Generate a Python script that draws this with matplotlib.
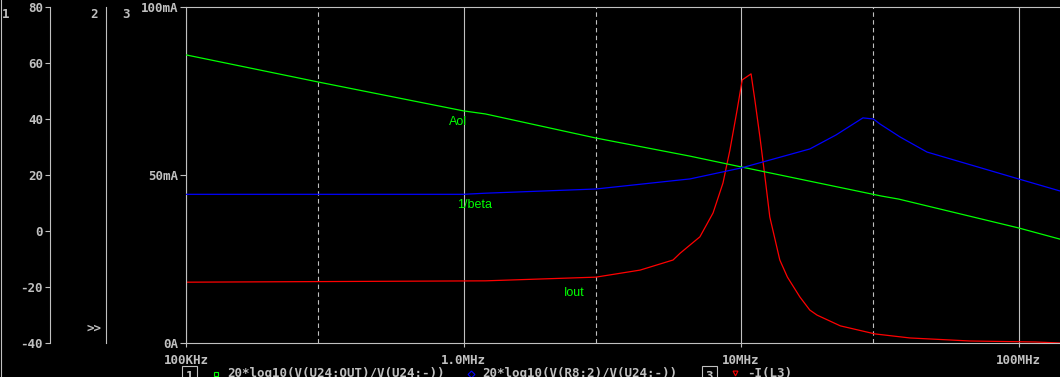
import numpy as np
import matplotlib.pyplot as plt
from matplotlib.lines import Line2D
from matplotlib.ticker import FixedLocator

# DATA ------------------------------------------------
# Aol (dB, axis 1)
freq_aol = [1e5, 3e5, 1e6, 1.2e6, 3e6, 6.5e6, 1e7, 3.2e7, 3.7e7, 1e8, 1.41e8]
aol_db = [62.9, 53.2, 42.9, 41.8, 33.2, 26.8, 22.9, 12.5, 11.4, 1.1, -2.9]

# 1/beta (dB, axis 1)
freq_beta = [1e5, 1e6, 1.2e6, 3e6, 6.0e6, 6.55e6, 1e7, 1.77e7, 2.2e7, 2.75e7,
             3.0e7, 3.17e7, 3.74e7, 4.68e7, 1e8, 1.41e8]
beta_db = [13.1, 13.1, 13.5, 15.0, 18.2, 18.6, 22.5, 29.3, 34.3, 40.4,
           40.0, 38.2, 33.6, 28.2, 18.6, 14.3]

# Iout (mA, axis 3)
freq_iout = [1e5, 1.2e6, 3e6, 4.33e6, 5.69e6, 6.03e6, 7.11e6, 7.93e6, 8.61e6,
             9.12e6, 9.68e6, 1.01e7, 1.087e7, 1.122e7, 1.17e7, 1.22e7, 1.27e7,
             1.38e7, 1.47e7, 1.63e7, 1.77e7, 1.88e7, 2.28e7, 3.04e7, 4.06e7,
             6.68e7, 1.15e8, 1.41e8]
iout_ma = [18.1, 18.5, 19.6, 21.7, 24.7, 26.7, 31.6, 38.7, 47.6,
           57.4, 69.3, 78.3, 80.1, 72.3, 61.3, 49.4, 37.5,
           24.7, 19.6, 13.7, 9.8, 8.3, 5.1, 2.7, 1.5,
           0.6, 0.3, 0.0]

x_ticks = [1e5, 1e6, 1e7, 1e8]
x_labels = ['100KHz', '1.0MHz', '10MHz', '100MHz']
x_dashed = [3e5, 3e6, 3e7]
db_ticks = [-40, -20, 0, 20, 40, 60, 80]
ma_ticks = [0, 50, 100]
ma_labels = ['0A', '50mA', '100mA']

legend_1a = '20*log10(V(U24:OUT)/V(U24:-))'
legend_1b = '20*log10(V(R8:2)/V(U24:-))'
legend_3 = '-I(L3)'

# STYLE -----------------------------------------------
GREY = '#c0c0c0'
W, H = 1060, 377
plt.rcParams['font.family'] = 'DejaVu Sans Mono'
plt.rcParams['font.weight'] = 'bold'
plt.rcParams['axes.unicode_minus'] = False


def fx(px):
    return px / W


def fy(py):
    return 1 - py / H


fig = plt.figure(figsize=(W / 100, H / 100), dpi=100, facecolor='black')
rect = [fx(186), fy(343), fx(1060) - fx(186), fy(7) - fy(343)]

# axis 3 (main, mA) -----------------------------------
ax = fig.add_axes(rect)
ax.set_facecolor('black')
ax.set_xscale('log')
ax.set_xlim(1e5, 10 ** (5 + 874 / 277.5))
ax.set_ylim(0, 100)
ax.spines['right'].set_visible(False)
for s in ['left', 'top', 'bottom']:
    ax.spines[s].set_color(GREY)
    ax.spines[s].set_linewidth(0.8)

ax.xaxis.set_major_locator(FixedLocator(x_ticks))
ax.xaxis.set_minor_locator(FixedLocator(x_dashed))
ax.set_xticklabels(x_labels)
ax.grid(True, which='major', axis='x', color=GREY, lw=0.8, ls='-')
ax.grid(True, which='minor', axis='x', color=GREY, lw=0.8, ls=(0, (4, 3)))
ax.tick_params(axis='x', which='major', length=3, width=0.8, color=GREY,
               labelcolor=GREY, labelsize=9, pad=5)
ax.tick_params(axis='x', which='minor', length=0)
ax.set_yticks(ma_ticks)
ax.set_yticklabels(ma_labels)
ax.tick_params(axis='y', length=4.3, width=0.8, color=GREY, labelcolor=GREY,
               labelsize=9, pad=1.5)
ax.plot(freq_iout, iout_ma, color='#ff0000', lw=0.9)

# axis 2 (no labels) ----------------------------------
ax2 = fig.add_axes(rect)
ax2.patch.set_visible(False)
for s in ['right', 'top', 'bottom']:
    ax2.spines[s].set_visible(False)
ax2.spines['left'].set_position(('axes', (106 - 186) / 874))
ax2.spines['left'].set_color(GREY)
ax2.spines['left'].set_linewidth(0.8)
ax2.set_xticks([])
ax2.set_yticks([])

# axis 1 (dB) -----------------------------------------
ax1 = fig.add_axes(rect, sharex=ax)
ax1.patch.set_visible(False)
for s in ['right', 'top', 'bottom']:
    ax1.spines[s].set_visible(False)
ax1.spines['left'].set_position(('axes', (50 - 186) / 874))
ax1.spines['left'].set_color(GREY)
ax1.spines['left'].set_linewidth(0.8)
ax1.set_ylim(-40, 80)
ax1.set_yticks(db_ticks)
ax1.set_yticklabels([str(v) for v in db_ticks])
ax1.tick_params(axis='y', length=3.6, width=0.8, color=GREY, labelcolor=GREY,
                labelsize=9, pad=1.5)
ax1.tick_params(axis='x', which='both', length=0, labelbottom=False)
ax1.plot(freq_aol, aol_db, color='#00ff00', lw=0.9)
ax1.plot(freq_beta, beta_db, color='#0000ff', lw=0.9)

# curve names
for txt, px, py in [('Aol', 449, 122), ('1/beta', 457, 204.5), ('Iout', 564, 292.5)]:
    fig.text(fx(px), fy(py), txt, color='#00ff00', fontsize=9, ha='left',
             va='center', family='Liberation Sans', weight='normal')

# axis numbers and window border
for txt, px, py in [('1', 6, 15), ('2', 94, 15), ('3', 126, 15), ('>>', 94, 328)]:
    fig.text(fx(px), fy(py), txt, color=GREY, fontsize=9, ha='center', va='center')
fig.add_artist(Line2D([fx(0.5), fx(0.5)], [0, 1], color=GREY, lw=0.8))

# legend row (cut by the bottom edge, as in the original) ---
box = dict(boxstyle='square,pad=0.3', fc='black', ec=GREY, lw=0.8)
fig.text(fx(189.5), fy(370), '1', color=GREY, fontsize=9, ha='center', va='top', bbox=box)
fig.text(fx(709.5), fy(370), '3', color=GREY, fontsize=9, ha='center', va='top', bbox=box)
fig.add_artist(Line2D([fx(215.5)], [fy(374)], marker='s', ms=3.5, mfc='none',
                      mec='#00ff00', mew=0.8, ls='none'))
fig.add_artist(Line2D([fx(471)], [fy(374)], marker='D', ms=3.5, mfc='none',
                      mec='#0000ff', mew=0.8, ls='none'))
fig.add_artist(Line2D([fx(734.7)], [fy(373)], marker='v', ms=3.5, mfc='none',
                      mec='#ff0000', mew=0.8, ls='none'))
fig.text(fx(227), fy(367), legend_1a, color=GREY, fontsize=9, ha='left', va='top')
fig.text(fx(482), fy(367), legend_1b, color=GREY, fontsize=9, ha='left', va='top')
fig.text(fx(747), fy(367), legend_3, color=GREY, fontsize=9, ha='left', va='top')

fig.savefig('out.png', dpi=100, facecolor='black')
